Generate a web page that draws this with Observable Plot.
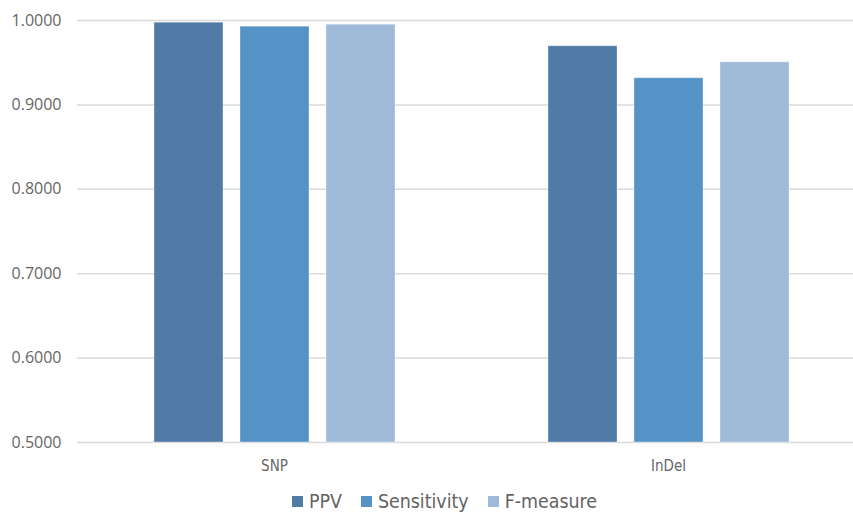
<!DOCTYPE html>
<html>
<head>
<meta charset="utf-8">
<script src="https://cdn.jsdelivr.net/npm/d3@7"></script>
<script src="https://cdn.jsdelivr.net/npm/@observablehq/plot@0.6"></script>
<style>
  html, body { margin: 0; padding: 0; background: #fff; }
  #chart { width: 853px; overflow: hidden; }
  .legend {
    display: flex; justify-content: center; align-items: center; gap: 19px;
    font-family: "Liberation Sans Narrow", "DejaVu Sans Condensed", sans-serif;
    font-size: 19.4px; color: #636363; margin-top: 12px; padding-left: 36px;
  }
  .legend span.item { display: flex; align-items: center; gap: 6px; }
  .legend i { display: inline-block; width: 11px; height: 11px; }
</style>
</head>
<body>
<div id="chart"></div>
<script>
// Variant-calling accuracy by variant type
const categories = ["SNP", "InDel"];
const metrics = ["PPV", "Sensitivity", "F-measure"];
const ppv = [0.9974, 0.9695];
const sensitivity = [0.9927, 0.9316];
const fMeasure = [0.9950, 0.9505];
const colors = ["#4f7ba6", "#5593c7", "#9fbad9"];
const yTicks = [0.5, 0.6, 0.7, 0.8, 0.9, 1.0];

const series = [ppv, sensitivity, fMeasure];
const rows = categories.flatMap((c, i) =>
  metrics.map((m, j) => ({category: c, metric: m, value: series[j][i]}))
);

const chart = Plot.plot({
  width: 853,
  height: 478,
  marginLeft: 77,
  marginRight: -12,
  marginTop: 20,
  marginBottom: 36,
  style: {background: "#fff", overflow: "visible"},
  fx: {domain: categories, padding: 0, label: null},
  x: {domain: metrics, paddingInner: 0.2, paddingOuter: 0.87, axis: null},
  y: {domain: [0.5, 1.0], axis: null},
  color: {domain: metrics, range: colors},
  marks: [
    Plot.gridY(yTicks, {stroke: "#d9d9d9", strokeOpacity: 1, strokeWidth: 1.5}),
    Plot.barY(rows, {
      fx: "category", x: "metric", y1: 0.5, y2: "value",
      fill: "metric", stroke: "#ffffff", strokeOpacity: 0.35, strokeWidth: 1
    }),
    Plot.axisY(yTicks, {
      tickSize: 0, tickPadding: 16, tickFormat: d3.format(".4f"),
      fontSize: 16, fill: "#666666", label: null,
      fontFamily: "Open Sans, Liberation Sans, sans-serif"
    }),
    Plot.axisFx({
      anchor: "bottom", tickSize: 0, tickPadding: 18, label: null,
      fontSize: 15, fill: "#666666",
      fontFamily: "Liberation Sans Narrow, DejaVu Sans Condensed, sans-serif"
    })
  ]
});
document.getElementById("chart").appendChild(chart);

const legend = document.createElement("div");
legend.className = "legend";
metrics.forEach((m, j) => {
  const item = document.createElement("span");
  item.className = "item";
  const sw = document.createElement("i");
  sw.style.background = colors[j];
  item.appendChild(sw);
  item.appendChild(document.createTextNode(m));
  legend.appendChild(item);
});
document.getElementById("chart").appendChild(legend);
</script>
</body>
</html>
